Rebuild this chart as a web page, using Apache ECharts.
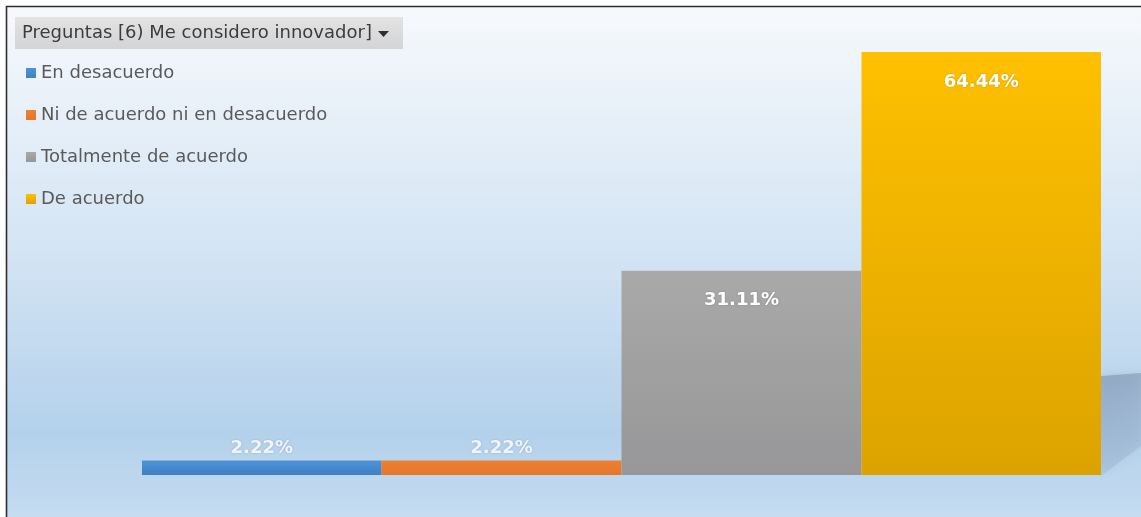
<!DOCTYPE html>
<html>
<head>
<meta charset="utf-8">
<title>Preguntas [6) Me considero innovador]</title>
<script src="https://cdn.jsdelivr.net/npm/echarts@6/dist/echarts.min.js"></script>
<style>
  html, body { margin: 0; padding: 0; background: #ffffff; }
  #chart { width: 1141px; height: 517px; }
</style>
</head>
<body>
<div id="chart"></div>
<script>
// Survey answers for question 6, share of respondents (%)
const filterLabel = 'Preguntas [6) Me considero innovador]';
const categories = ['Total'];
const answers = ['En desacuerdo', 'Ni de acuerdo ni en desacuerdo', 'Totalmente de acuerdo', 'De acuerdo'];
const shares = [2.22, 2.22, 31.11, 64.44];

// Bar fills: top colour, bottom colour
const barColors = [
  ['#4f93d6', '#3f80c2'],
  ['#f08032', '#e4752a'],
  ['#a9a9a9', '#979799'],
  ['#ffc000', '#dca300']
];

const FONT = 'DejaVu Sans';

function vGrad(top, bottom) {
  return new echarts.graphic.LinearGradient(0, 0, 0, 1, [
    { offset: 0, color: top },
    { offset: 1, color: bottom }
  ]);
}

const series = answers.map((name, i) => {
  const v = shares[i];
  const tall = v > 10;
  return {
    name: name,
    type: 'bar',
    data: [v],
    barWidth: 240,
    barGap: '0%',
    itemStyle: { color: vGrad(barColors[i][0], barColors[i][1]) },
    label: {
      show: true,
      position: tall ? 'insideTop' : 'top',
      distance: tall ? 21 : 3,
      formatter: p => p.value.toFixed(2) + '%',
      color: tall ? '#ffffff' : '#eef5fc',
      fontFamily: FONT,
      fontWeight: 'bold',
      fontSize: 18,
      textShadowColor: 'rgba(0,0,0,0.2)',
      textShadowBlur: 2
    }
  };
});

const chart = echarts.init(document.getElementById('chart'), null, { renderer: 'canvas' });

chart.setOption({
  backgroundColor: '#ffffff',
  animation: false,
  color: barColors.map(c => c[0]),
  graphic: [
    // chart area with its sky gradient and frame
    {
      type: 'rect', z: -20, silent: true,
      shape: { x: 6.5, y: 6.5, width: 1140, height: 520 },
      style: {
        fill: new echarts.graphic.LinearGradient(0, 0, 0, 1, [
          { offset: 0, color: '#f7f9fc' },
          { offset: 0.18, color: '#e9f1f9' },
          { offset: 0.5, color: '#d1e3f3' },
          { offset: 0.82, color: '#b4d1eb' },
          { offset: 1, color: '#c7ddf1' }
        ]),
        stroke: '#2e2e2e',
        lineWidth: 1.6
      }
    },
    // floor shadow to the right of the last bar
    {
      type: 'polygon', z: -15, silent: true,
      shape: { points: [[1101, 376], [1141, 373], [1141, 446], [1125, 458], [1101, 476]] },
      style: {
        fill: new echarts.graphic.LinearGradient(0, 0, 1, 1, [
          { offset: 0, color: 'rgba(132,154,182,0.7)' },
          { offset: 1, color: 'rgba(160,182,208,0.35)' }
        ]),
        shadowBlur: 10,
        shadowColor: 'rgba(140,165,195,0.5)'
      }
    },
    // field filter button
    {
      type: 'rect', z: 10, silent: true,
      shape: { x: 15, y: 17, width: 388, height: 32 },
      style: {
        fill: new echarts.graphic.LinearGradient(0, 0, 0, 1, [
          { offset: 0, color: '#e3e3e4' },
          { offset: 1, color: '#d3d4d6' }
        ])
      }
    },
    {
      type: 'text', z: 11, silent: true,
      x: 22, y: 33,
      style: {
        text: filterLabel,
        fill: '#3c3c3c',
        font: '18px "' + FONT + '"',
        verticalAlign: 'middle'
      }
    },
    {
      type: 'polygon', z: 11, silent: true,
      shape: { points: [[378, 31], [389, 31], [383.5, 37]] },
      style: { fill: '#2f2f2f' }
    }
  ],
  legend: {
    orient: 'vertical',
    left: 26,
    top: 64,
    padding: 0,
    itemGap: 24,
    itemWidth: 10,
    itemHeight: 10,
    icon: 'rect',
    selectedMode: false,
    data: answers,
    textStyle: {
      color: '#5a5a5a',
      fontFamily: FONT,
      fontSize: 18,
      lineHeight: 18
    }
  },
  grid: { left: 142, right: 40, top: 52, bottom: 42, containLabel: false },
  xAxis: {
    type: 'category',
    data: categories,
    show: false
  },
  yAxis: {
    type: 'value',
    min: 0,
    max: Math.max(...shares),
    show: false,
    splitLine: { show: false }
  },
  series: series
});
</script>
</body>
</html>
